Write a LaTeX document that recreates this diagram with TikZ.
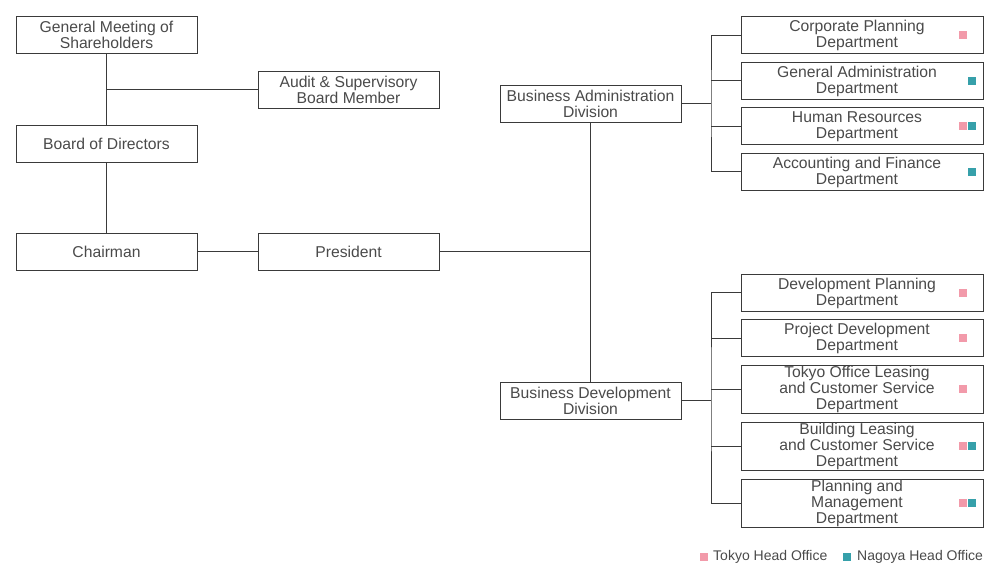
\documentclass[tikz,border=0pt]{standalone}
\usepackage{fontspec}
\setmainfont{Liberation Sans}
\definecolor{linec}{HTML}{3A3A3A}
\definecolor{textc}{HTML}{4A4A4A}
\definecolor{tokyo}{HTML}{F29AAA}
\definecolor{nagoya}{HTML}{36A0AA}
\begin{document}
\begin{tikzpicture}[x=1pt,y=-1pt,
  box/.style={draw=linec, line width=0.9pt, minimum width=181pt, minimum height=37pt, inner sep=0pt, align=center, text=textc, font=\fontsize{15.7}{16}\selectfont},
  dept/.style={box, minimum width=242pt},
  tall/.style={minimum height=48pt},
  deptlabel/.style={align=center, text=textc, font=\fontsize{15.7}{16}\selectfont, inner sep=0pt, xshift=-5pt, yshift=-0.8pt},
  conn/.style={draw=linec, line width=0.9pt},
  sqbox/.style={minimum size=8pt, inner sep=0pt},
  pinksq/.style={sqbox, fill=tokyo},
  tealsq/.style={sqbox, fill=nagoya},
  legtext/.style={anchor=west, text=textc, font=\fontsize{14}{15}\selectfont, inner sep=0pt}
]
\useasboundingbox (0,0) rectangle (986,565);

% left column
\node[box] (gm) at (106.5,35) {General Meeting of\\Shareholders};
\node[box] (audit) at (348.5,89.5) {Audit \& Supervisory\\Board Member};
\node[box] (bod) at (106.5,143.5) {Board of Directors};
\node[box] (ch) at (106.5,251.5) {Chairman};
\node[box] (pres) at (348.5,251.5) {President};

% divisions
\node[box] (ba) at (590.5,103.5) {Business Administration\\Division};
\node[box] (bd) at (590.5,400.5) {Business Development\\Division};

% departments (administration)
\node[dept, label={[deptlabel]center:Corporate Planning\\Department}] (a1) at (862,35) {};
\node[dept, label={[deptlabel]center:General Administration\\Department}] (a2) at (862,80.5) {};
\node[dept, label={[deptlabel]center:Human Resources\\Department}] (a3) at (862,126) {};
\node[dept, label={[deptlabel]center:Accounting and Finance\\Department}] (a4) at (862,171.5) {};

% departments (development)
\node[dept, label={[deptlabel]center:Development Planning\\Department}] (b1) at (862,292.5) {};
\node[dept, label={[deptlabel]center:Project Development\\Department}] (b2) at (862,338) {};
\node[dept, tall, label={[deptlabel]center:Tokyo Office Leasing\\and Customer Service\\Department}] (b3) at (862,389) {};
\node[dept, tall, label={[deptlabel]center:Building Leasing\\and Customer Service\\Department}] (b4) at (862,446) {};
\node[dept, tall, label={[deptlabel]center:Planning and\\Management\\Department}] (b5) at (862,503) {};

% office markers
\node[pinksq] (sa1p) at ([xshift=-20.5pt]a1.east) {};
\node[tealsq] (sa2t) at ([xshift=-11.5pt]a2.east) {};
\node[pinksq] (sa3p) at ([xshift=-20.5pt]a3.east) {};
\node[tealsq] (sa3t) at ([xshift=-11.5pt]a3.east) {};
\node[tealsq] (sa4t) at ([xshift=-11.5pt]a4.east) {};
\node[pinksq] (sb1p) at ([xshift=-20.5pt]b1.east) {};
\node[pinksq] (sb2p) at ([xshift=-20.5pt]b2.east) {};
\node[pinksq] (sb3p) at ([xshift=-20.5pt]b3.east) {};
\node[pinksq] (sb4p) at ([xshift=-20.5pt]b4.east) {};
\node[tealsq] (sb4t) at ([xshift=-11.5pt]b4.east) {};
\node[pinksq] (sb5p) at ([xshift=-20.5pt]b5.east) {};
\node[tealsq] (sb5t) at ([xshift=-11.5pt]b5.east) {};

% junctions
\coordinate (j1) at (106.5,89.5);
\coordinate (j2) at (590.5,251.5);
\coordinate (ja) at (711,103.5);
\coordinate (jb) at (711,400.5);

% connectors
\draw[conn] (gm) -- (bod);
\draw[conn] (j1) -- (audit.west);
\draw[conn] (bod) -- (ch);
\draw[conn] (ch) -- (pres);
\draw[conn] (pres.east) -- (j2);
\draw[conn] (ba) -- (bd);
\draw[conn] (ba.east) -- (ja);
\draw[conn] (a1.west) -| (ja) |- (a4.west);
\draw[conn] (a2.west) -- (a2.west -| ja);
\draw[conn] (a3.west) -- (a3.west -| ja);
\draw[conn] (bd.east) -- (jb);
\draw[conn] (b1.west) -| (jb) |- (b5.west);
\draw[conn] (b2.west) -- (b2.west -| jb);
\draw[conn] (b3.west) -- (b3.west -| jb);
\draw[conn] (b4.west) -- (b4.west -| jb);

% legend
\node[pinksq] (lp) at (704,557) {};
\node[legtext] (lpt) at (713,557) {Tokyo Head Office};
\node[tealsq] (lt) at (847,557) {};
\node[legtext] (ltt) at (857,557) {Nagoya Head Office};
\end{tikzpicture}
\end{document}
